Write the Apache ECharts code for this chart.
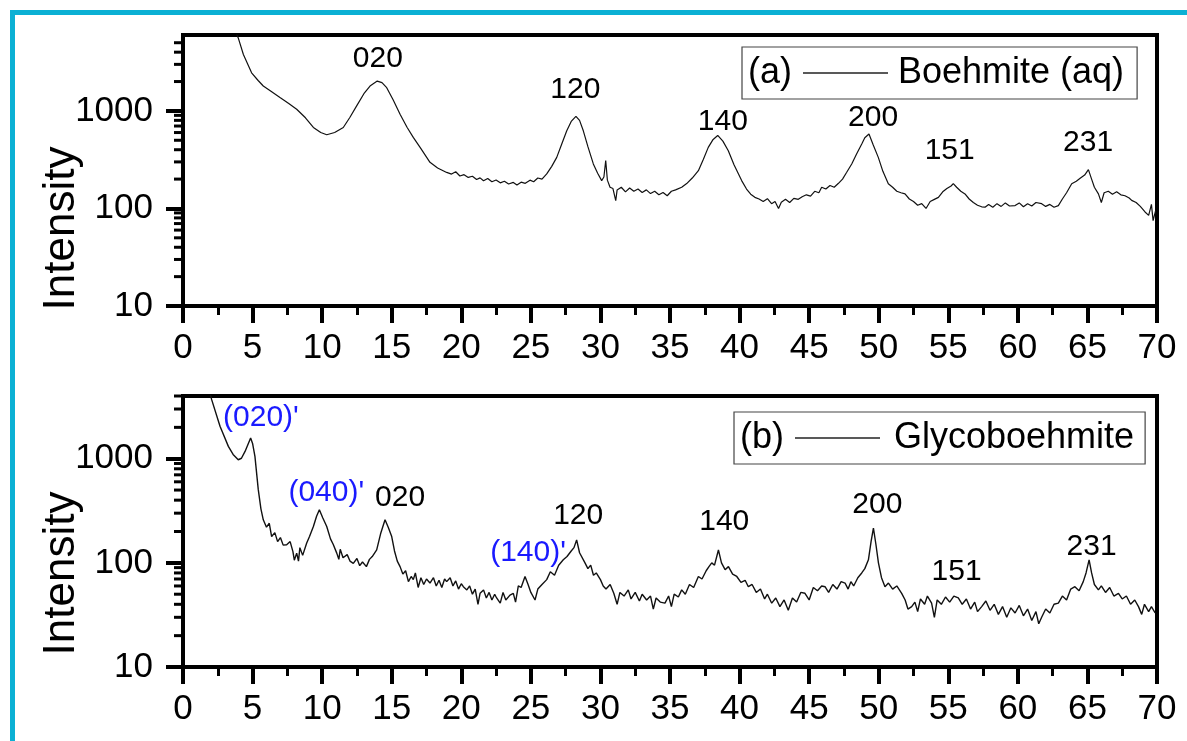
<!DOCTYPE html>
<html><head><meta charset="utf-8">
<script src="https://cdn.jsdelivr.net/npm/echarts@6/dist/echarts.min.js"></script>
<style>html,body{margin:0;padding:0;background:#fff}#c{width:1187px;height:741px}</style>
</head><body><div id="c"></div>
<script>
// ---- data (2θ in degrees, intensity in counts) ----
const boehmite = [
[3.6,7500],[3.97,5600],[4.34,3790],[4.93,2460],[5.4,2050],[5.77,1800],[6.4,1560],[6.97,1370],[7.6,1190],[8.17,1040],
[8.8,850],[9.37,676],[9.9,600],[10.33,569],[10.9,600],[11.52,676],[12.0,860],[12.48,1125],[13.0,1500],[13.44,1800],
[13.96,2020],[14.3,1950],[14.64,1730],[15.1,1300],[15.6,925],[16.1,680],[16.55,535],[17.1,410],[17.75,297],[18.3,260],
[18.95,234],[19.3,225],[19.6,238],[19.9,215],[20.2,222],[20.5,208],[20.8,214],[21.1,198],[21.35,206],[21.6,192],
[21.9,203],[22.2,188],[22.5,196],[22.8,183],[23.1,190],[23.4,178],[23.74,185],[24.0,174],[24.3,186],[24.6,181],
[24.94,195],[25.2,188],[25.5,205],[25.8,200],[26.14,226],[26.5,270],[26.86,334],[27.2,450],[27.58,625],[27.9,780],
[28.24,880],[28.5,800],[28.77,625],[29.1,430],[29.49,286],[29.8,230],[30.09,193],[30.25,210],[30.38,310],[30.5,195],
[30.69,165],[30.9,160],[31.1,120],[31.2,155],[31.5,165],[31.8,148],[32.1,162],[32.4,150],[32.7,158],[33.0,146],
[33.3,155],[33.6,142],[33.9,150],[34.2,138],[34.5,146],[34.8,135],[35.1,150],[35.4,155],[35.84,165],[36.2,180],
[36.6,205],[37.04,244],[37.4,320],[37.75,423],[38.1,510],[38.43,560],[38.8,490],[39.19,391],[39.6,280],[40.15,193],
[40.5,158],[40.8,140],[41.1,130],[41.4,125],[41.7,118],[42.0,126],[42.3,112],[42.55,118],[42.8,100],[43.0,116],
[43.3,124],[43.6,115],[43.9,127],[44.22,124],[44.5,132],[44.8,138],[45.1,134],[45.4,150],[45.7,145],[45.9,165],
[46.2,158],[46.5,172],[46.8,165],[47.09,180],[47.4,200],[47.7,235],[48.06,286],[48.4,360],[48.78,457],[49.0,530],
[49.3,580],[49.6,450],[49.97,334],[50.3,240],[50.69,179],[51.0,165],[51.3,150],[51.6,145],[51.89,141],[52.2,125],
[52.5,118],[52.8,108],[53.09,112],[53.4,100],[53.7,118],[54.0,124],[54.29,130],[54.6,148],[54.9,160],[55.2,170],
[55.36,180],[55.6,165],[55.9,150],[56.2,141],[56.5,125],[56.8,115],[57.1,108],[57.4,104],[57.64,103],[57.9,110],
[58.2,103],[58.5,112],[58.8,105],[59.1,114],[59.4,106],[59.8,107],[60.1,114],[60.4,104],[60.7,112],[61.0,106],
[61.3,115],[61.71,112],[62.0,105],[62.3,110],[62.6,103],[62.91,107],[63.2,125],[63.5,145],[63.87,179],[64.2,190],
[64.5,205],[64.8,220],[65.07,250],[65.3,200],[65.5,165],[65.79,141],[66.0,115],[66.2,145],[66.5,150],[66.8,140],
[67.1,148],[67.4,138],[67.7,135],[68.0,128],[68.18,121],[68.5,115],[68.8,105],[69.14,92],[69.4,85],[69.6,110],
[69.72,75],[69.9,95]
];
const glycoboehmite = [
[1.9,4500],[2.06,3690],[2.66,2050],[3.26,1313],[3.6,1100],[3.97,977],[4.2,1010],[4.46,1175],[4.86,1580],[5.0,1400],
[5.17,1052],[5.41,504],[5.6,330],[5.77,259],[6.0,220],[6.2,240],[6.37,179],[6.6,195],[6.8,160],[7.0,175],[7.2,148],
[7.45,149],[7.7,160],[7.9,128],[8.0,106],[8.17,124],[8.3,104],[8.4,140],[8.6,118],[8.89,155],[9.1,180],[9.37,223],[9.6,280],
[9.8,324],[10.05,270],[10.33,223],[10.6,170],[10.8,150],[11.05,124],[11.2,108],[11.3,135],[11.5,112],[11.8,120],[12.0,104],
[12.24,99],[12.5,110],[12.7,94],[12.9,102],[13.18,92],[13.4,108],[13.6,115],[13.92,133],[14.2,190],[14.52,259],
[14.75,220],[15.0,179],[15.2,130],[15.4,104],[15.6,92],[15.8,78],[16.0,84],[16.2,66],[16.4,74],[16.55,69],
[16.7,80],[16.9,58],[17.1,72],[17.3,62],[17.5,70],[17.75,64],[18.0,72],[18.2,60],[18.4,68],[18.6,58],
[18.8,70],[18.95,66],[19.2,72],[19.4,60],[19.6,67],[19.8,56],[20.0,63],[20.15,59],[20.4,55],[20.6,60],
[20.8,50],[21.0,56],[21.2,40],[21.35,51],[21.6,55],[21.8,46],[22.0,52],[22.2,44],[22.4,50],[22.54,46],
[22.8,41],[23.0,52],[23.2,44],[23.5,49],[23.74,51],[23.9,42],[24.1,60],[24.3,58],[24.58,74],[24.8,62],
[25.0,52],[25.3,44],[25.5,56],[25.8,62],[26.14,69],[26.4,82],[26.7,76],[27.0,95],[27.33,107],[27.6,115],
[27.9,130],[28.1,140],[28.29,166],[28.5,125],[28.89,100],[29.1,88],[29.3,95],[29.5,76],[29.7,80],[30.0,69],
[30.2,60],[30.4,56],[30.7,62],[30.96,51],[31.2,40],[31.4,52],[31.7,48],[32.0,55],[32.2,45],[32.5,52],
[32.8,43],[33.0,50],[33.32,44],[33.6,48],[33.8,36],[34.0,46],[34.3,42],[34.64,41],[34.9,48],[35.1,38],
[35.3,50],[35.6,47],[35.84,55],[36.1,50],[36.4,62],[36.7,58],[37.04,74],[37.3,70],[37.6,84],[37.8,92],
[38.0,100],[38.2,95],[38.48,133],[38.7,100],[38.96,86],[39.2,92],[39.5,78],[39.8,74],[40.1,65],[40.4,68],
[40.63,59],[40.9,62],[41.2,52],[41.5,56],[41.8,45],[42.0,50],[42.31,41],[42.6,46],[42.9,38],[43.2,44],
[43.5,35],[43.8,46],[44.1,42],[44.4,52],[44.7,51],[45.0,44],[45.3,58],[45.6,54],[45.9,60],[46.14,59],
[46.4,52],[46.7,62],[47.0,56],[47.3,66],[47.58,64],[47.8,56],[48.0,66],[48.2,60],[48.5,72],[48.78,80],
[49.0,88],[49.26,107],[49.45,160],[49.62,216],[49.8,150],[49.98,100],[50.2,72],[50.45,59],[50.7,64],[51.0,56],
[51.3,60],[51.65,51],[51.9,44],[52.1,36],[52.37,38],[52.6,42],[52.8,34],[53.0,45],[53.3,40],[53.5,48],
[53.8,41],[54.0,30],[54.2,44],[54.5,40],[54.8,47],[55.1,42],[55.4,48],[55.72,46],[56.0,40],[56.3,45],
[56.6,36],[56.9,42],[57.1,34],[57.4,38],[57.7,43],[58.0,35],[58.3,40],[58.6,32],[58.9,38],[59.2,30],
[59.5,37],[59.8,33],[60.1,39],[60.4,31],[60.7,36],[61.0,28],[61.3,34],[61.5,26],[61.71,30],[62.0,36],
[62.3,33],[62.6,40],[62.91,41],[63.2,48],[63.5,44],[63.8,56],[64.1,59],[64.4,54],[64.7,66],[64.9,80],
[65.12,107],[65.3,80],[65.5,62],[65.79,55],[66.0,60],[66.3,52],[66.6,58],[66.9,48],[67.23,51],[67.5,45],
[67.8,48],[68.1,40],[68.4,44],[68.67,38],[68.9,32],[69.1,40],[69.4,34],[69.6,38],[69.87,33]
];
// peak annotations: [text, 2θ, intensity anchor]
const peaksA = [['020',14.0,3435],['120',28.2,1655],['140',38.8,779],['200',49.6,857],['151',55.1,394],['231',65.05,475]];
const peaksB = [['020',15.6,420],['120',28.4,282],['140',38.9,247],['200',49.9,360],['151',55.6,82],['231',65.3,142]];
const peaksBPrime = [["(020)'",5.6,2466],["(040)'",10.3,469],["(140)'",24.8,124]];
const minorTicksA = [20,30,40,50,60,70,80,90,200,300,400,500,600,700,800,900,2000,3000,4000,5000];
const minorTicksB = [20,30,40,50,60,70,80,90,200,300,400,500,600,700,800,900,2000,3000,4000];
const seriesNames = ['Boehmite (aq)','Glycoboehmite'];
const panelTags = ['(a)','(b)'];

// ---- chart ----
const FONT = 'Liberation Sans, Arial, sans-serif';
const chart = echarts.init(document.getElementById('c'), null, {renderer:'canvas'});

function xAxis(gi){
  return {type:'value', gridIndex:gi, min:0, max:70, interval:5,
    axisLine:{show:true, onZero:false, lineStyle:{color:'#000', width:4}},
    axisTick:{show:true, inside:false, length:17, lineStyle:{color:'#000', width:4}},
    minorTick:{show:true, splitNumber:2, length:9, lineStyle:{color:'#000', width:3}},
    splitLine:{show:false}, minorSplitLine:{show:false},
    axisLabel:{fontSize:35, color:'#000', fontFamily:FONT, margin:25}};
}
function yAxis(gi, max, shift){
  return {type:'log', logBase:10, gridIndex:gi, min:10, max:max,
    name:'Intensity', nameLocation:'middle', nameRotate:90, nameGap:99, nameMoveOverlap:false,
    nameTextStyle:{fontSize:44, color:'#000', fontFamily:FONT, padding:[0,shift,0,0]},
    axisLine:{show:true, onZero:false, lineStyle:{color:'#000', width:4}},
    axisTick:{show:true, inside:false, length:17, lineStyle:{color:'#000', width:4}},
    splitLine:{show:false},
    axisLabel:{fontSize:35, color:'#000', fontFamily:FONT, margin:30, showMaxLabel:false,
      formatter:(v)=> (v===10||v===100||v===1000) ? String(v) : ''}};
}
function minorTickSeries(gi, vals){
  return {type:'custom', xAxisIndex:gi, yAxisIndex:gi, clip:false, silent:true, z:5,
    data: vals.map(v=>[0,v]),
    renderItem:(params, api)=>{
      const p = api.coord([0, api.value(1)]);
      return {type:'line', shape:{x1:p[0]-9, y1:p[1], x2:p[0], y2:p[1]}, style:{stroke:'#000', lineWidth:3}};
    }};
}
function labelSeries(gi, list, color){
  return {type:'custom', xAxisIndex:gi, yAxisIndex:gi, clip:false, silent:true, z:6,
    data: list.map(p=>[p[1],p[2]]),
    renderItem:(params, api)=>{
      const p = api.coord([api.value(0), api.value(1)]);
      return {type:'text', x:p[0], y:p[1],
        style:{text:list[params.dataIndex][0], fill:color, fontSize:30, fontFamily:FONT,
          align:'center', verticalAlign:'middle', textAlign:'center', textVerticalAlign:'middle'}};
    }};
}
function legend(series, left, top, padL, padR, gapText){
  return {data:[{name:series, icon:'rect'}], left:left, top:top, orient:'horizontal', selectedMode:false,
    padding:[8,padR,8,padL], itemWidth:85, itemHeight:1.6, backgroundColor:'#fff',
    borderColor:'#444', borderWidth:1.2, borderRadius:0,
    itemStyle:{color:'#222', borderWidth:0},
    textStyle:{fontSize:36, color:'#000', fontFamily:FONT, lineHeight:36, padding:[0,0,0,gapText]}};
}

chart.setOption({
  animation:false,
  backgroundColor:'#fff',
  grid:[
    {left:183, right:30, top:35, height:271, show:true, borderColor:'#000', borderWidth:4, backgroundColor:'transparent'},
    {left:183, right:30, top:396, height:271, show:true, borderColor:'#000', borderWidth:4, backgroundColor:'transparent'}
  ],
  xAxis:[xAxis(0), xAxis(1)],
  yAxis:[yAxis(0, 6000, 116), yAxis(1, 4000, 84)],
  legend:[legend(seriesNames[0], 742, 47, 61, 13, 5), legend(seriesNames[1], 734, 412, 61, 11, 9)],
  graphic:[
    {type:'rect', shape:{x:12.5, y:12.5, width:1400, height:1000}, style:{fill:'none', stroke:'#0BB0D4', lineWidth:5}, silent:true, z:100},
    {type:'text', left:748, top:50, style:{text:panelTags[0], fontSize:36, fill:'#000', fontFamily:FONT, lineHeight:46}, z:100},
    {type:'text', left:740, top:415, style:{text:panelTags[1], fontSize:36, fill:'#000', fontFamily:FONT, lineHeight:46}, z:100}
  ],
  series:[
    {name:seriesNames[0], type:'line', xAxisIndex:0, yAxisIndex:0, data:boehmite, symbol:'none', showSymbol:false,
      lineStyle:{color:'#111', width:1.2}, itemStyle:{color:'#111'}, clip:true},
    {name:seriesNames[1], type:'line', xAxisIndex:1, yAxisIndex:1, data:glycoboehmite, symbol:'none', showSymbol:false,
      lineStyle:{color:'#111', width:1.4}, itemStyle:{color:'#111'}, clip:true},
    minorTickSeries(0, minorTicksA),
    minorTickSeries(1, minorTicksB),
    labelSeries(0, peaksA, '#000'),
    labelSeries(1, peaksB, '#000'),
    labelSeries(1, peaksBPrime, '#1a1aff')
  ]
});
</script></body></html>
